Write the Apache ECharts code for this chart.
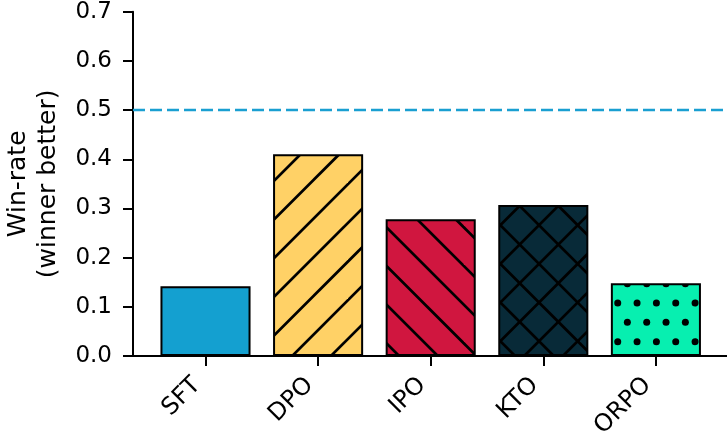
<!DOCTYPE html>
<html>
<head>
<meta charset="utf-8">
<script src="https://cdn.jsdelivr.net/npm/echarts@6/dist/echarts.min.js"></script>
<style>
  html, body { margin: 0; padding: 0; background: #ffffff; }
  #chart { width: 727px; height: 434px; }
</style>
</head>
<body>
<div id="chart"></div>
<script>
// Win-rate per alignment method
const categories = ['SFT', 'DPO', 'IPO', 'KTO', 'ORPO'];
const winRates = [0.142, 0.41, 0.278, 0.307, 0.148];
const referenceRate = 0.5;
const yTickMin = 0;
const yTickMax = 0.7;
const yTickStep = 0.1;

// Fill colour and hatch style for each bar
const barColors = ['#14a0d0', '#ffd166', '#d0163f', '#082a38', '#07efb0'];
const barHatches = ['none', '/', '\\', 'x', '.'];

const FONT = 'DejaVu Sans';
const TILE = 116;            // pattern tile, holds a whole number of hatch periods
const LINE_STEP = TILE / 3;  // spacing of hatch lines
const DOT_STEP = TILE / 6;   // spacing of hatch dots

function hatchFill(color, hatch) {
  if (hatch === 'none') return color;
  const c = document.createElement('canvas');
  c.width = TILE; c.height = TILE;
  const g = c.getContext('2d');
  g.fillStyle = color;
  g.fillRect(0, 0, TILE, TILE);
  g.strokeStyle = '#000000';
  g.fillStyle = '#000000';
  g.lineWidth = 2.7;
  const fwd = () => {
    for (let k = -2; k <= 8; k++) {
      const s = 29.5 + k * LINE_STEP;
      g.beginPath();
      g.moveTo(s + 20, -20);
      g.lineTo(s - TILE - 20, TILE + 20);
      g.stroke();
    }
  };
  const back = () => {
    for (let k = -5; k <= 5; k++) {
      const s = 4.5 + k * LINE_STEP;
      g.beginPath();
      g.moveTo(s - 20, -20);
      g.lineTo(s + TILE + 20, TILE + 20);
      g.stroke();
    }
  };
  if (hatch === '/') fwd();
  if (hatch === '\\') back();
  if (hatch === 'x') { fwd(); back(); }
  if (hatch === '.') {
    const r = 3.5;
    for (let row = -1; row <= 7; row++) {
      const y = 13 + row * DOT_STEP;
      const x0 = (row % 2 === 0) ? 8.7 : 18.4;
      for (let col = -1; col <= 7; col++) {
        const x = x0 + col * DOT_STEP;
        g.beginPath();
        g.arc(x, y, r, 0, Math.PI * 2);
        g.fill();
      }
    }
  }
  return { image: c, repeat: 'repeat' };
}

const barData = winRates.map((v, i) => ({
  value: v,
  itemStyle: { color: hatchFill(barColors[i], barHatches[i]) }
}));

const chart = echarts.init(document.getElementById('chart'), null, { renderer: 'canvas' });

chart.setOption({
  animation: false,
  backgroundColor: '#ffffff',
  grid: [
    { left: 133, right: 0, top: 11.7, bottom: 78, outerBoundsMode: 'none', containLabel: false },
    { left: 149.2, right: 14.8, top: 11.7, bottom: 78, outerBoundsMode: 'none', containLabel: false }
  ],
  xAxis: [
    {
      gridIndex: 0, type: 'value', min: 0, max: 1,
      axisLine: { show: true, lineStyle: { color: '#000000', width: 2 } },
      axisTick: { show: false }, axisLabel: { show: false }, splitLine: { show: false }
    },
    {
      gridIndex: 1, type: 'category', data: categories,
      axisLine: { show: false },
      axisTick: { show: true, alignWithLabel: true, length: 10, lineStyle: { color: '#000000', width: 2 } },
      axisLabel: { rotate: 45, margin: 17, padding: [0, 12, 0, 0],
                   color: '#000000', fontFamily: FONT, fontSize: 24 },
      splitLine: { show: false }
    }
  ],
  yAxis: [
    {
      gridIndex: 0, type: 'value', min: yTickMin, max: yTickMax, interval: yTickStep,
      name: 'Win-rate\n(winner better)',
      nameLocation: 'middle', nameRotate: 90, nameGap: 70,
      nameTextStyle: { color: '#000000', fontFamily: FONT, fontSize: 25, lineHeight: 30 },
      axisLine: { show: true, lineStyle: { color: '#000000', width: 2 } },
      axisTick: { show: true, length: 10, lineStyle: { color: '#000000', width: 2 } },
      axisLabel: { margin: 21, color: '#000000', fontFamily: FONT, fontSize: 23,
                   formatter: v => v.toFixed(1) },
      splitLine: { show: false }
    },
    {
      gridIndex: 1, type: 'value', min: yTickMin, max: yTickMax, show: false
    }
  ],
  series: [
    {
      type: 'bar', xAxisIndex: 1, yAxisIndex: 1,
      barWidth: '80%',
      data: barData,
      itemStyle: { borderColor: '#000000', borderWidth: 2 }
    },
    {
      type: 'line', xAxisIndex: 0, yAxisIndex: 0,
      data: [[0, referenceRate], [1, referenceRate]],
      symbol: 'none', silent: true,
      lineStyle: { color: '#1a9fd1', width: 2.6, type: [12, 5] }
    }
  ]
});
</script>
</body>
</html>
